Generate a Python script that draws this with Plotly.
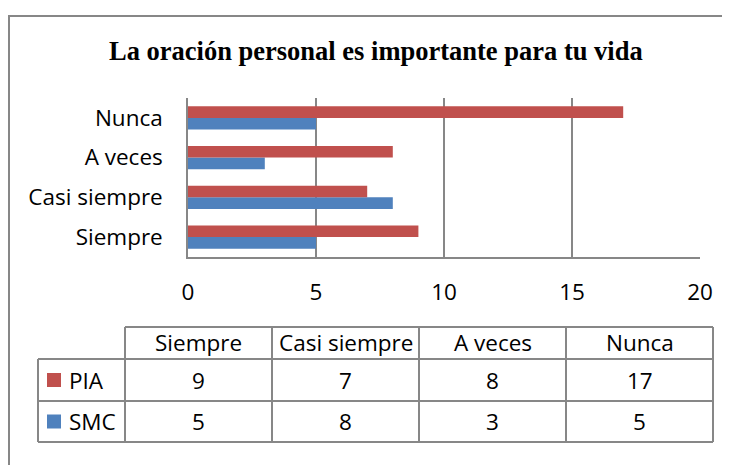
import plotly.graph_objects as go

# data
categories = ["Siempre", "Casi siempre", "A veces", "Nunca"]
pia = [9, 7, 8, 17]
smc = [5, 8, 3, 5]
series_names = ["PIA", "SMC"]
x_ticks = [0, 5, 10, 15, 20]
title_text = "La oración personal es importante para tu vida"

red = "#C0504D"
blue = "#4F81BD"
grey = "#878787"
txt_font = "Open Sans"

# the page adds an 8px body margin; figure sized to reach the window's right/bottom edge
OFF = 8
W, H = 730 - OFF, 465 - OFF


def px(x):
    return (x - OFF) / W


def py(y):
    return 1 - (y - OFF) / H


fig = go.Figure()
# SMC first so that PIA sits on top inside each group
fig.add_trace(go.Bar(y=categories, x=smc, name="SMC", orientation="h",
                     marker=dict(color=blue, line=dict(width=0))))
fig.add_trace(go.Bar(y=categories, x=pia, name="PIA", orientation="h",
                     marker=dict(color=red, line=dict(width=0))))

shapes = []
annotations = []

# outer chart border (right and bottom edges fall outside the picture)
shapes.append(dict(type="rect", xref="paper", yref="paper",
                   x0=px(9), x1=px(760), y0=py(16), y1=py(500),
                   line=dict(color=grey, width=2)))

annotations.append(dict(text="<b>" + title_text + "</b>", xref="paper", yref="paper",
                        x=px(376), y=py(51), xanchor="center", yanchor="middle",
                        showarrow=False,
                        font=dict(family="Liberation Serif", size=26.5, color="black")))

# data table under the chart
col_x = [38, 125, 272, 419, 566, 713]
row_y = [327, 359, 401, 442]
line = dict(color=grey, width=2)

# horizontal lines
shapes.append(dict(type="line", xref="paper", yref="paper",
                   x0=px(col_x[1]), x1=px(col_x[-1]), y0=py(row_y[0]), y1=py(row_y[0]), line=line))
for r in row_y[1:]:
    shapes.append(dict(type="line", xref="paper", yref="paper",
                       x0=px(col_x[0]), x1=px(col_x[-1]), y0=py(r), y1=py(r), line=line))
# vertical lines
shapes.append(dict(type="line", xref="paper", yref="paper",
                   x0=px(col_x[0]), x1=px(col_x[0]), y0=py(row_y[1]), y1=py(row_y[-1]), line=line))
for c in col_x[1:]:
    shapes.append(dict(type="line", xref="paper", yref="paper",
                       x0=px(c), x1=px(c), y0=py(row_y[0]), y1=py(row_y[-1]), line=line))

cell_font = dict(family=txt_font, size=22.5, color="black")
for i, cat in enumerate(categories):
    cx = (col_x[i + 1] + col_x[i + 2]) / 2
    annotations.append(dict(text=cat, xref="paper", yref="paper", x=px(cx),
                            y=py((row_y[0] + row_y[1]) / 2 - 1), xanchor="center",
                            yanchor="middle", showarrow=False, font=cell_font))
    for j, vals in enumerate([pia, smc]):
        cy = (row_y[j + 1] + row_y[j + 2]) / 2
        annotations.append(dict(text=str(vals[i]), xref="paper", yref="paper", x=px(cx),
                                y=py(cy), xanchor="center", yanchor="middle",
                                showarrow=False, font=cell_font))

for j, (name, col) in enumerate(zip(series_names, [red, blue])):
    cy = (row_y[j + 1] + row_y[j + 2]) / 2
    shapes.append(dict(type="rect", xref="paper", yref="paper",
                       x0=px(47), x1=px(61), y0=py(cy - 7), y1=py(cy + 7),
                       fillcolor=col, line=dict(width=0)))
    annotations.append(dict(text=name, xref="paper", yref="paper", x=px(67),
                            y=py(cy), xanchor="left", yanchor="middle",
                            showarrow=False, font=cell_font))

fig.update_layout(
    width=W, height=H,
    margin=dict(l=0, r=0, t=0, b=0),
    paper_bgcolor="white", plot_bgcolor="white",
    barmode="group", bargap=0.42, bargroupgap=0,
    showlegend=False,
    shapes=shapes, annotations=annotations,
    xaxis=dict(domain=[px(188), px(700)], range=[0, 20], tickvals=x_ticks,
               showgrid=True, gridcolor=grey, gridwidth=1.5,
               showline=True, linecolor=grey, linewidth=1.5,
               zeroline=False, ticks="", ticklabelstandoff=14, automargin=False,
               tickfont=dict(family=txt_font, size=22.5, color="black")),
    yaxis=dict(domain=[py(257), py(98)], categoryorder="array", categoryarray=categories,
               showline=True, linecolor=grey, linewidth=1.5, showgrid=False,
               ticks="", ticklabelstandoff=19, automargin=False,
               tickfont=dict(family=txt_font, size=22.5, color="black")),
)

fig.write_html("out.html")
